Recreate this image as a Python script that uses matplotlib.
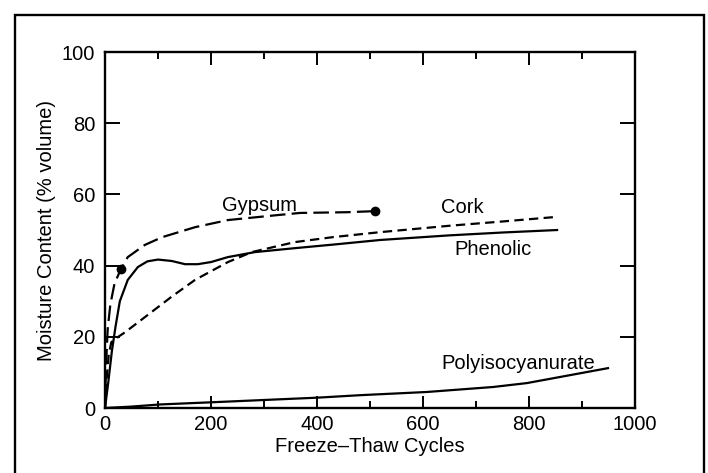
import numpy as np
import matplotlib
matplotlib.use("Agg")
import matplotlib.pyplot as plt
from matplotlib.patches import Rectangle

plt.rcParams.update({
    "font.family": "sans-serif",
    "font.sans-serif": ["Liberation Sans", "DejaVu Sans"],
    "font.size": 14,
})

# ---------------------------------------------------------
# Data
# ---------------------------------------------------------

gypsum_x = [0, 2, 5, 10, 18, 30, 43, 75, 108, 170, 232, 326, 368, 456, 509]
gypsum_y = [0, 12, 22, 29, 35, 39, 42.4, 45.8, 48, 50.8, 52.8, 54.2, 54.8, 55.0, 55.3]
gypsum_dots_x = [30, 509]
gypsum_dots_y = [39, 55.3]

cork_x = [0, 3, 7, 12, 25, 38, 75, 126, 170, 232, 277, 358, 430, 519, 650, 750, 853]
cork_y = [0, 8, 15, 18.5, 20, 21.3, 25.5, 31.3, 36, 41, 43.8, 46.6, 48, 49.4, 51.2, 52.4, 53.7]

phenolic_x = [0, 6, 13, 20, 28, 43, 62, 80, 100, 126, 151, 175, 200, 232, 283, 358, 430,
              519, 650, 750, 853]
phenolic_y = [0, 7, 16, 23, 30, 36, 39.6, 41.2, 41.7, 41.3, 40.4, 40.4, 41.0, 42.4, 43.8,
              44.9, 45.9, 47.2, 48.5, 49.3, 50]

poly_x = [0, 50, 104, 200, 292, 400, 481, 607, 732, 796, 858, 949]
poly_y = [0, 0.4, 1.0, 1.6, 2.2, 2.9, 3.6, 4.5, 5.9, 7.0, 8.7, 11.2]

labels = ["Gypsum", "Cork", "Phenolic", "Polyisocyanurate"]
label_x = [292, 675, 732, 779]
label_y = [57.0, 56.4, 44.4, 12.4]

# ---------------------------------------------------------
# Figure
# ---------------------------------------------------------

fig = plt.figure(figsize=(7.08, 4.73), dpi=100)
ax = fig.add_axes([0.1483, 0.1374, 0.7486, 0.7526])

lw = 1.6
ax.plot(gypsum_x, gypsum_y, color="black", lw=lw, dashes=(7.0, 2.8))
ax.plot(gypsum_dots_x, gypsum_dots_y, "o", color="black", ms=6)
ax.plot(cork_x, cork_y, color="black", lw=lw, dashes=(4.2, 2.4))
ax.plot(phenolic_x, phenolic_y, color="black", lw=lw)
ax.plot(poly_x, poly_y, color="black", lw=lw)

for t, x, y in zip(labels, label_x, label_y):
    ax.text(x, y, t, ha="center", va="center", fontsize=14.5)

ax.set_xlim(0, 1000)
ax.set_ylim(0, 100)
ax.set_xticks(np.arange(0, 1001, 200))
ax.set_xticks(np.arange(100, 1000, 200), minor=True)
ax.set_yticks(np.arange(0, 101, 20))

ax.tick_params(axis="x", which="major", direction="in", length=9, width=1.4,
               top=True, labelsize=14.5, pad=5)
ax.tick_params(axis="x", which="minor", direction="in", length=5, width=1.4, top=True)
ax.tick_params(axis="y", which="major", direction="in", length=11, width=1.4,
               right=True, labelsize=14.5, pad=7)

for s in ax.spines.values():
    s.set_linewidth(1.7)

ax.set_xlabel("Freeze\u2013Thaw Cycles", fontsize=14.5, labelpad=2)
ax.set_ylabel("Moisture Content (% volume)", fontsize=14.5, labelpad=4)

# outer frame around the figure
frame = Rectangle((15 / 708, -0.02), (704 - 15) / 708, 1 - 15 / 473 + 0.02,
                  transform=fig.transFigure, fill=False, edgecolor="black",
                  linewidth=1.7, clip_on=False)
fig.patches.append(frame)

plt.savefig("out.png", dpi=100)
plt.close()
